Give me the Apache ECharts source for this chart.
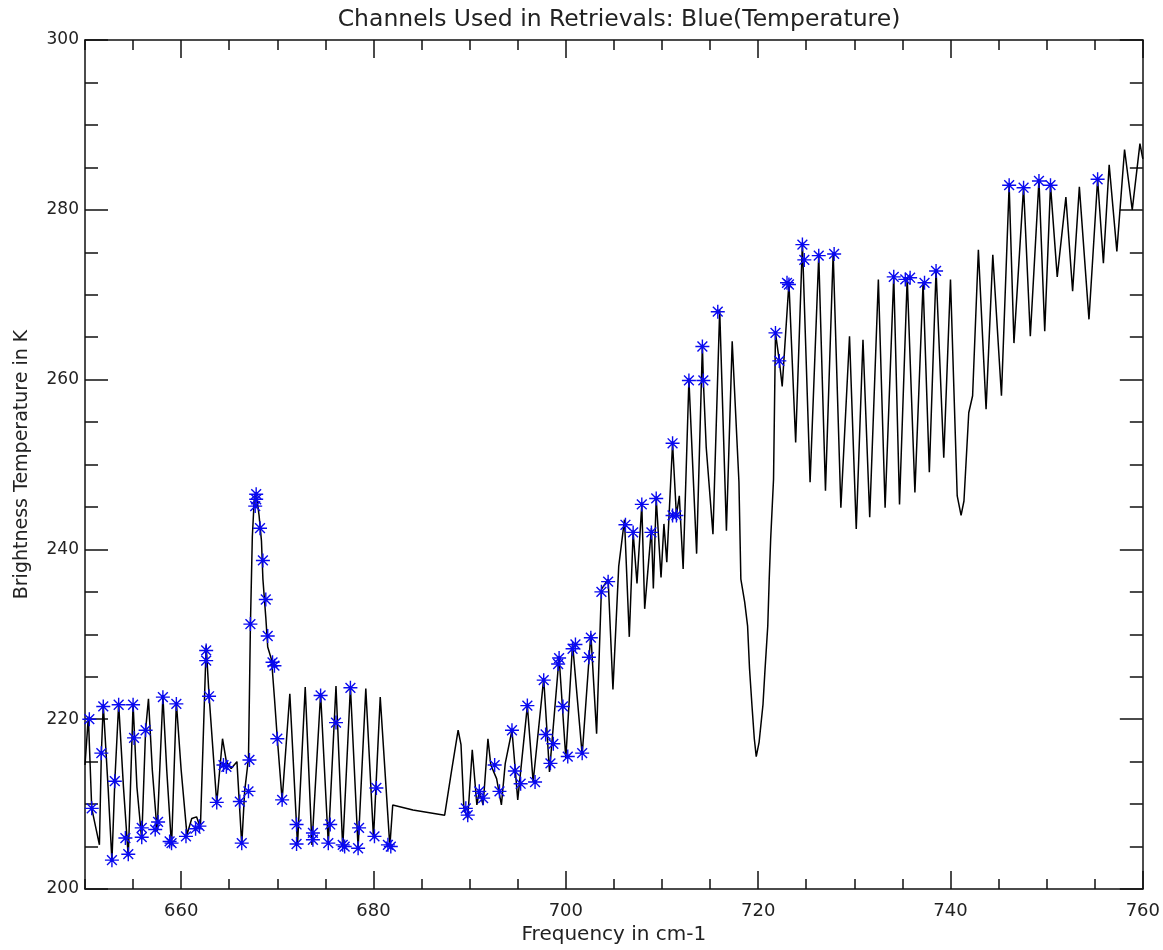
<!DOCTYPE html>
<html>
<head>
<meta charset="utf-8">
<script src="https://cdn.jsdelivr.net/npm/echarts@6/dist/echarts.min.js"></script>
<style>
  html, body { margin: 0; padding: 0; background: #fff; }
  #main { width: 1163px; height: 950px; }
</style>
</head>
<body>
<div id="main"></div>
<script>
// 光谱曲线 (频率 cm-1, 亮温 K)
const lineX = [650.0, 650.35, 650.7, 651.5, 651.7, 651.9, 652.4, 652.8, 653.1, 653.5, 654.0, 654.5, 655.0, 655.4, 655.9, 656.3, 656.6, 657.0, 657.5, 658.1, 658.5, 659.0, 659.5, 660.0, 660.6, 661.1, 661.6, 662.0, 662.6, 662.9, 663.7, 664.3, 664.7, 665.2, 665.8, 666.3, 666.6, 667.0, 667.1, 667.2, 667.4, 667.6, 667.8, 668.1, 668.35, 668.5, 668.8, 669.0, 669.4, 669.7, 670.0, 670.5, 671.3, 672.1, 672.9, 673.6, 674.5, 675.3, 676.1, 676.8, 677.6, 678.4, 679.2, 680.0, 680.7, 681.7, 682.0, 684.1, 687.4, 688.1, 688.8, 689.1, 689.4, 689.8, 690.27, 690.75, 691.0, 691.4, 691.9, 692.2, 692.8, 693.3, 693.7, 694.4, 695.0, 696.0, 696.6, 697.7, 698.3, 699.3, 700.0, 700.7, 701.7, 702.6, 703.2, 703.7, 704.4, 704.9, 705.5, 706.1, 706.6, 707.0, 707.4, 707.9, 708.2, 708.9, 709.1, 709.4, 709.9, 710.2, 710.5, 711.1, 711.5, 711.8, 712.2, 712.8, 713.6, 714.2, 714.3, 714.6, 715.3, 716.0, 716.7, 717.3, 718.0, 718.2, 718.6, 718.9, 719.1, 719.35, 719.6, 719.8, 720.1, 720.5, 720.7, 721.0, 721.15, 721.3, 721.6, 721.8, 722.2, 722.5, 723.2, 723.9, 724.6, 725.4, 726.3, 727.0, 727.8, 728.6, 729.5, 730.2, 730.9, 731.6, 732.5, 733.2, 734.1, 734.7, 735.5, 736.3, 737.15, 737.8, 738.5, 739.3, 740.0, 740.7, 741.1, 741.4, 741.9, 742.3, 742.9, 743.7, 744.4, 745.3, 746.1, 746.6, 747.6, 748.3, 749.2, 749.8, 750.4, 751.1, 752.0, 752.7, 753.4, 754.4, 755.3, 755.9, 756.5, 757.3, 758.1, 758.9, 759.7, 760.0]
const lineY = [214.6, 220.3, 209.5, 205.2, 216.0, 221.7, 212.0, 203.3, 212.7, 221.8, 212.0, 203.8, 221.8, 212.0, 205.8, 218.7, 222.4, 214.0, 206.8, 222.7, 214.0, 205.0, 222.0, 214.0, 206.4, 208.3, 208.5, 207.2, 228.7, 222.8, 210.1, 217.7, 215.0, 214.2, 215.0, 205.2, 211.5, 215.4, 223.0, 231.0, 241.5, 245.9, 246.7, 244.0, 241.0, 236.5, 232.0, 228.5, 227.0, 222.5, 217.7, 210.5, 223.0, 205.2, 223.8, 205.2, 223.0, 205.3, 223.9, 204.8, 223.8, 204.8, 223.6, 206.0, 222.6, 205.0, 209.9, 209.3, 208.7, 213.8, 218.7, 217.0, 209.5, 208.3, 216.4, 209.9, 211.5, 209.9, 217.7, 214.6, 213.0, 209.9, 214.8, 218.7, 210.5, 221.6, 212.6, 224.8, 213.8, 227.3, 215.4, 228.9, 215.8, 230.1, 218.3, 235.3, 236.5, 223.5, 238.0, 243.5, 229.7, 242.0, 236.0, 245.3, 233.0, 242.5, 235.4, 246.0, 236.7, 243.0, 238.5, 252.5, 244.0, 246.3, 237.7, 260.0, 239.5, 264.0, 259.9, 252.0, 241.8, 268.2, 242.2, 264.5, 248.0, 236.5, 233.8, 231.0, 226.0, 221.7, 217.7, 215.6, 217.3, 221.7, 225.6, 231.0, 236.5, 241.2, 248.3, 265.5, 262.2, 259.2, 271.4, 252.6, 276.1, 247.9, 274.6, 246.9, 274.9, 244.9, 265.1, 242.4, 264.7, 243.8, 271.8, 244.9, 272.2, 245.3, 272.0, 246.7, 271.4, 249.1, 272.9, 250.8, 271.8, 246.3, 244.0, 245.7, 256.1, 258.1, 275.3, 256.5, 274.7, 258.1, 282.9, 264.3, 282.7, 265.1, 283.5, 265.7, 282.9, 272.1, 281.5, 270.4, 282.7, 267.1, 283.6, 273.7, 285.3, 275.1, 287.1, 280.0, 287.8, 286.0]

// 反演所用通道 (蓝色星号)
const starX = [650.45, 650.7, 651.7, 651.9, 652.8, 653.1, 653.5, 654.2, 654.5, 655.0, 655.1, 655.9, 655.9, 656.3, 657.3, 657.6, 658.1, 658.8, 659.0, 659.5, 660.5, 661.5, 661.9, 662.6, 662.6, 662.9, 663.7, 664.4, 664.7, 666.1, 666.3, 667.0, 667.1, 667.2, 667.7, 667.8, 667.8, 668.2, 668.5, 668.8, 669.0, 669.5, 669.7, 670.0, 670.5, 672.0, 672.0, 673.7, 673.7, 674.5, 675.3, 675.5, 676.1, 676.8, 677.0, 677.6, 678.4, 678.5, 680.1, 680.3, 681.5, 681.8, 689.6, 689.8, 691.0, 691.4, 692.6, 693.1, 694.4, 694.7, 695.3, 696.0, 696.8, 697.7, 697.9, 698.4, 698.7, 699.2, 699.3, 699.7, 700.2, 700.7, 701.0, 701.7, 702.4, 702.6, 703.7, 704.4, 706.2, 707.0, 707.9, 708.9, 709.4, 711.1, 711.1, 711.5, 712.8, 714.2, 714.3, 715.8, 721.8, 722.2, 723.0, 723.2, 724.6, 724.8, 726.3, 727.9, 734.1, 735.3, 735.8, 737.3, 738.5, 746.1, 747.6, 749.2, 750.4, 755.3]
const starY = [220.0, 209.5, 216.0, 221.5, 203.4, 212.7, 221.7, 206.0, 204.1, 221.7, 217.8, 206.1, 207.2, 218.7, 207.0, 207.9, 222.6, 205.6, 205.4, 221.8, 206.2, 207.1, 207.4, 228.1, 226.9, 222.7, 210.2, 214.6, 214.4, 210.3, 205.4, 211.5, 215.2, 231.2, 245.1, 245.9, 246.5, 242.5, 238.7, 234.1, 229.8, 226.7, 226.3, 217.7, 210.5, 207.6, 205.3, 206.6, 205.8, 222.8, 205.4, 207.6, 219.6, 205.2, 205.0, 223.7, 204.8, 207.2, 206.2, 211.9, 205.2, 205.0, 209.5, 208.7, 211.5, 210.7, 214.6, 211.5, 218.7, 213.9, 212.4, 221.6, 212.6, 224.6, 218.2, 214.8, 217.1, 226.5, 227.2, 221.5, 215.6, 228.3, 228.8, 216.0, 227.3, 229.6, 235.0, 236.2, 242.9, 242.0, 245.3, 242.0, 246.0, 252.5, 244.0, 244.0, 259.9, 263.9, 259.9, 268.0, 265.5, 262.2, 271.4, 271.2, 275.9, 274.1, 274.6, 274.8, 272.1, 271.8, 272.0, 271.4, 272.8, 282.9, 282.6, 283.4, 282.9, 283.6]

// 刻度
const xMajorTicks = [660, 680, 700, 720, 740, 760]
const yRange = [200, 300]
const xRange = [650, 760]

const lineData = lineX.map((x, i) => [x, lineY[i]])
const starData = starX.map((x, i) => [x, starY[i]])

const fontFamily = 'DejaVu Sans'
const textColor = '#222'
const axisColor = '#111'
// 星号符号
const asterisk = 'path://M10,0L10,20M0,10L20,10M3,3L17,17M3,17L17,3M12,10A2,2 0 1,1 8,10A2,2 0 1,1 12,10Z'

var chart = echarts.init(document.getElementById('main'), null, { renderer: 'canvas' })

// 小刻度轴 (每5个单位)
function minorXAxis(position, showLabel) {
  return {
    type: 'value',
    position: position,
    min: xRange[0],
    max: xRange[1],
    interval: 5,
    name: showLabel ? 'Frequency in cm-1' : '',
    nameLocation: 'middle',
    nameGap: 36,
    nameTextStyle: { fontFamily: fontFamily, fontSize: 20, color: textColor },
    axisLine: { show: true, onZero: false, lineStyle: { color: axisColor, width: 1.5 } },
    axisTick: { show: true, inside: true, length: 10, lineStyle: { color: axisColor, width: 1.5 } },
    axisLabel: {
      show: showLabel,
      customValues: xMajorTicks,
      margin: 13,
      fontFamily: fontFamily,
      fontSize: 18,
      color: textColor
    },
    splitLine: { show: false }
  }
}

// 大刻度轴
function majorXAxis(position) {
  return {
    type: 'value',
    position: position,
    min: xRange[0],
    max: xRange[1],
    axisLine: { show: false, onZero: false },
    axisTick: { show: true, inside: true, length: 18, customValues: xMajorTicks, lineStyle: { color: axisColor, width: 1.5 } },
    axisLabel: { show: false },
    splitLine: { show: false }
  }
}

function yAxisOpt(position, showLabel) {
  return {
    type: 'value',
    position: position,
    min: yRange[0],
    max: yRange[1],
    interval: 20,
    name: showLabel ? 'Brightness Temperature in K' : '',
    nameLocation: 'middle',
    nameRotate: 90,
    nameGap: 53,
    nameTextStyle: { fontFamily: fontFamily, fontSize: 19, color: textColor },
    axisLine: { show: true, onZero: false, lineStyle: { color: axisColor, width: 1.5 } },
    axisTick: { show: true, inside: true, length: 23, lineStyle: { color: axisColor, width: 1.5 } },
    minorTick: { show: true, splitNumber: 4, length: 13, lineStyle: { color: axisColor, width: 1.5 } },
    axisLabel: {
      show: showLabel,
      margin: 6,
      fontFamily: fontFamily,
      fontSize: 17,
      color: textColor
    },
    splitLine: { show: false },
    minorSplitLine: { show: false }
  }
}

var option = {
  backgroundColor: '#fff',
  animation: false,
  title: {
    text: 'Channels Used in Retrievals: Blue(Temperature)',
    left: 614,
    top: 3,
    textAlign: 'center',
    textStyle: { fontFamily: fontFamily, fontSize: 23.5, fontWeight: 'normal', color: textColor }
  },
  grid: {
    left: 85,
    right: 19,
    top: 40,
    bottom: 59,
    containLabel: false
  },
  xAxis: [
    minorXAxis('bottom', true),
    majorXAxis('bottom'),
    minorXAxis('top', false),
    majorXAxis('top')
  ],
  yAxis: [
    yAxisOpt('left', true),
    yAxisOpt('right', false)
  ],
  series: [
    {
      type: 'line',
      xAxisIndex: 0,
      yAxisIndex: 0,
      data: lineData,
      showSymbol: false,
      smooth: false,
      clip: true,
      lineStyle: { color: '#000', width: 1.5 }
    },
    {
      type: 'scatter',
      xAxisIndex: 0,
      yAxisIndex: 0,
      data: starData,
      symbol: asterisk,
      symbolSize: 14,
      symbolKeepAspect: true,
      z: 3,
      itemStyle: { color: '#0a0af0', borderColor: '#0a0af0', borderWidth: 1.4, opacity: 1 }
    }
  ]
}

chart.setOption(option)
</script>
</body>
</html>
